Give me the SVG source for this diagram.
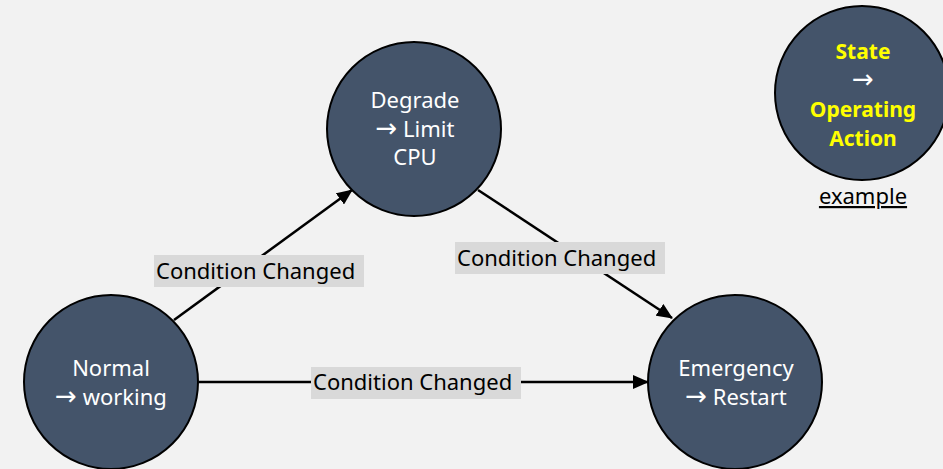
<svg xmlns="http://www.w3.org/2000/svg" width="943" height="469" viewBox="0 0 943 469">
<style>
.node{fill:#44546a;stroke:#000;stroke-width:2}
.nt{font-family:"Noto Sans","DejaVu Sans",sans-serif;font-size:22px;fill:#fff;text-anchor:middle}
.ar{font-family:"DejaVu Sans",sans-serif;font-size:26px}
.yt{font-family:"Noto Sans","DejaVu Sans",sans-serif;font-size:21px;font-weight:bold;fill:#ffff00;text-anchor:middle}
.edge{stroke:#000;stroke-width:2.5;fill:none}
.lb{fill:#d9d9d9}
.lt{font-family:"Noto Sans","DejaVu Sans",sans-serif;font-size:22px;fill:#000}
</style>
<defs>
<marker id="ah" markerUnits="userSpaceOnUse" markerWidth="16" markerHeight="14" refX="15" refY="7" orient="auto">
<path d="M0,0 L16,7 L0,14 Z" fill="#000"/>
</marker>
</defs>
<rect width="943" height="469" fill="#f2f2f2"/>
<g id="connectors">
<line class="edge" x1="174" y1="320" x2="352" y2="190" marker-end="url(#ah)"/>
<line class="edge" x1="478" y1="190" x2="672" y2="318" marker-end="url(#ah)"/>
<line class="edge" x1="199" y1="382" x2="648" y2="382" marker-end="url(#ah)"/>
<rect class="lb" x="154" y="255" width="210" height="32"/>
<text class="lt" x="156" y="279">Condition Changed</text>
<rect class="lb" x="455" y="242" width="210" height="32"/>
<text class="lt" x="457" y="266">Condition Changed</text>
<rect class="lb" x="311" y="367" width="210" height="32"/>
<text class="lt" x="313" y="390">Condition Changed</text>
</g>
<g id="node-degrade">
<circle class="node" cx="414" cy="129" r="87"/>
<text class="nt" x="415" y="108">Degrade</text>
<text class="nt" x="415" y="137"><tspan class="ar">→</tspan> Limit</text>
<text class="nt" x="415" y="165">CPU</text>
</g>
<g id="node-normal">
<circle class="node" cx="111" cy="382" r="87"/>
<text class="nt" x="111" y="376">Normal</text>
<text class="nt" x="111" y="405"><tspan class="ar">→</tspan> working</text>
</g>
<g id="node-emergency">
<circle class="node" cx="735" cy="382" r="87"/>
<text class="nt" x="736" y="376">Emergency</text>
<text class="nt" x="736" y="405"><tspan class="ar">→</tspan> Restart</text>
</g>
<g id="node-example">
<circle class="node" cx="862" cy="93" r="87"/>
<text class="yt" x="863" y="59">State</text>
<text class="nt" x="863" y="88"><tspan class="ar">→</tspan></text>
<text class="yt" x="863" y="117">Operating</text>
<text class="yt" x="863" y="146">Action</text>
<text class="lt" x="863" y="204" text-anchor="middle" text-decoration="underline">example</text>
</g>
</svg>
